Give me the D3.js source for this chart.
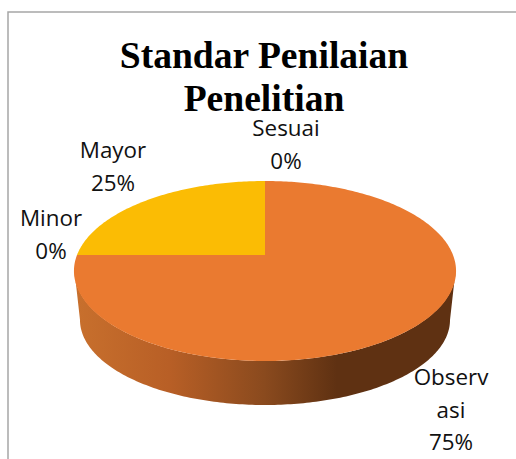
<!DOCTYPE html>
<html><head><meta charset="utf-8">
<script src="https://cdn.jsdelivr.net/npm/d3@7"></script>
<style>html,body{margin:0;padding:0;background:#fff}svg{display:block}</style>
</head><body><svg id="c" width="516" height="459"></svg>
<script>
const categories = ["Sesuai","Observasi","Minor","Mayor"];
const values = [0,75,0,25];
const colors = ["#5b9bd5","#ea7a30","#a5a5a5","#fbbc04"];
const titleLines = ["Standar Penilaian","Penelitian"];
const labelLines = [["Sesuai","0%"],["Observ","asi","75%"],["Minor","0%"],["Mayor","25%"]];
const labelPos = [[286,136],[451,385],[51,226],[113,158]];

const svg = d3.select("#c");
const W=516,H=459;
svg.append("path").attr("d",`M${W},12H8V${H}`).attr("fill","none").attr("stroke","#a6a6a6").attr("stroke-width",1.5);

const defs = svg.append("defs");
const grad = defs.append("linearGradient").attr("id","side").attr("gradientUnits","userSpaceOnUse")
  .attr("x1",74).attr("x2",455).attr("y1",0).attr("y2",0);
[[0,"#c8702d"],[0.25,"#b85f26"],[0.5,"#8a4a1e"],[0.69,"#5f3112"],[1,"#5f3112"]].forEach(([o,c])=>grad.append("stop").attr("offset",o).attr("stop-color",c));

// perspective projection of unit pie disc
const cx=265,cy=255;
const px=d3.scaleLinear().domain([-1,1]).range([cx-188,cx+188]);
const k=-0.1778, a=87.16;
const proj=(t)=>{const x=Math.sin(t),y=-Math.cos(t),w=1+k*y;
  return [cx+(px(x)-cx)/w, cy+a*y/w];};
const line=d3.line();

// side wall
const lowRx=185,lowRy=85,lowCy=320;
const lowPts=d3.range(0,181).map(i=>{const t=Math.PI*i/180;return [cx+lowRx*Math.cos(t),lowCy+lowRy*Math.sin(t)];});
const topEdge=d3.range(0,181).map(i=>{const t=Math.PI*i/180;return [cx+190.5*Math.cos(t),271+90*Math.sin(t)];}).reverse();
svg.append("path").attr("d",line(lowPts.concat(topEdge))+"Z").attr("fill","url(#side)");

// top slices
const pie=d3.pie().sort(null).value(d=>d)(values);
pie.forEach((p,i)=>{
  if(p.endAngle-p.startAngle<1e-6) return;
  const n=Math.ceil((p.endAngle-p.startAngle)*60);
  const pts=[[cx,cy]].concat(d3.range(n+1).map(j=>proj(p.startAngle+(p.endAngle-p.startAngle)*j/n)));
  svg.append("path").attr("d",line(pts)+"Z").attr("fill",colors[i]);
});

// title
svg.append("g").selectAll("text").data(titleLines).join("text")
 .attr("x",264).attr("y",(d,i)=>68+i*42.5).attr("text-anchor","middle")
 .attr("font-family","Liberation Serif").attr("font-weight","bold").attr("font-size",37.6).attr("fill","#000").text(d=>d);

// labels
labelLines.forEach((ls,i)=>{
  svg.append("g").selectAll("text").data(ls).join("text")
   .attr("x",labelPos[i][0]).attr("y",(d,j)=>labelPos[i][1]+j*32.5).attr("text-anchor","middle")
   .attr("font-family","Open Sans").attr("font-size",22.4).attr("fill","#111").text(d=>d);
});
</script></body></html>
